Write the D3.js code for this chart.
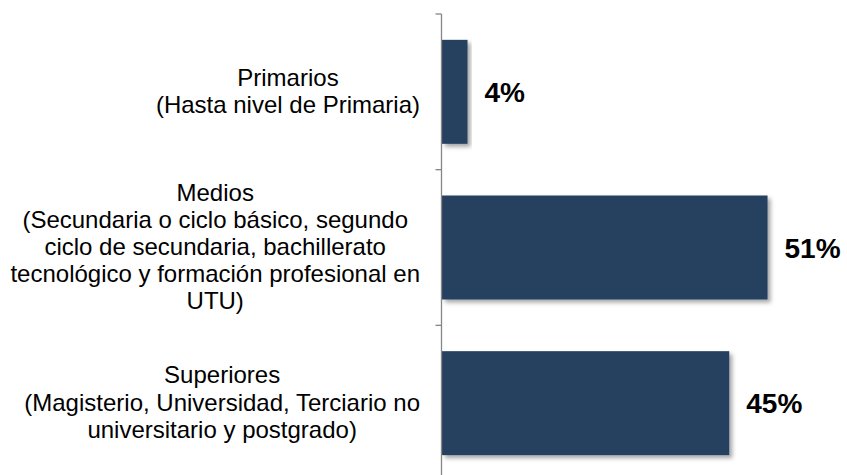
<!DOCTYPE html>
<meta charset="utf-8">
<style>
  body { margin: 0; background: #fff; }
  text { font-family: "Liberation Sans", Arial, sans-serif; }
</style>
<svg width="847" height="475"></svg>
<script src="https://cdnjs.cloudflare.com/ajax/libs/d3/7.8.5/d3.min.js"></script>
<script>
// categories, each one split in the lines that the chart shows
var categories = ["Primarios", "Medios", "Superiores"]
var categoryLines = [
  ["Primarios", "(Hasta nivel de Primaria)"],
  ["Medios", "(Secundaria o ciclo básico, segundo", "ciclo de secundaria, bachillerato",
   "tecnológico y formación profesional en", "UTU)"],
  ["Superiores", "(Magisterio, Universidad, Terciario no", "universitario y postgrado)"]
]
var values = [0.04, 0.51, 0.45]

var svg = d3.select("svg")

var axisX = 441.5
var labelRight = 420
var lineHeight = 27.2

var x = d3.scaleLinear().domain([0, 0.6]).range([442, 825])
var y = d3.scaleBand()
  .domain(categories)
  .range([14, 481])
  .paddingInner(0.332)
  .paddingOuter(0.166)

// soft shadow like the office chart
var defs = svg.append("defs")
var f = defs.append("filter").attr("id", "shadow")
  .attr("x", "-5%").attr("y", "-5%").attr("width", "120%").attr("height", "130%")
f.append("feDropShadow")
  .attr("dx", 3).attr("dy", 3).attr("stdDeviation", 2.2)
  .attr("flood-color", "#000").attr("flood-opacity", 0.35)

var data = categories.map(function (c, i) { return { cat: c, lines: categoryLines[i], value: values[i] } })

svg.append("g")
  .selectAll("rect")
  .data(data)
  .enter().append("rect")
    .attr("x", x(0))
    .attr("y", function (d) { return y(d.cat) })
    .attr("width", function (d) { return x(d.value) - x(0) })
    .attr("height", y.bandwidth())
    .attr("fill", "#264061")
    .attr("filter", "url(#shadow)")

// axis: line plus outer ticks to the left
var axis = d3.axisLeft(y).tickSize(0).tickFormat("")
var axisG = svg.append("g")
  .attr("transform", "translate(" + axisX + ",0)")
  .call(axis)
axisG.select(".domain").remove()
axisG.selectAll(".tick").remove()
axisG.append("line")
  .attr("x1", 0).attr("x2", 0)
  .attr("y1", 14).attr("y2", 481)
  .attr("stroke", "#868686").attr("stroke-width", 1.3)
var bounds = categories.map(function (c) { return y(c) - y.step() * y.paddingInner() / 2 })
bounds.push(481)
axisG.selectAll(".tk")
  .data(bounds)
  .enter().append("line")
    .attr("x1", -6).attr("x2", 0)
    .attr("y1", function (d) { return d }).attr("y2", function (d) { return d })
    .attr("stroke", "#868686").attr("stroke-width", 1.3)

// category labels: block right aligned, lines centred inside the block
var labels = svg.append("g")
  .selectAll("g")
  .data(data)
  .enter().append("g")

labels.each(function (d) {
  var g = d3.select(this)
  var n = d.lines.length
  var mid = y(d.cat) + y.bandwidth() / 2
  var first = mid - (n - 1) * lineHeight / 2 + 7.5
  var texts = g.selectAll("text")
    .data(d.lines)
    .enter().append("text")
      .attr("y", function (l, i) { return first + i * lineHeight })
      .attr("font-size", 24)
      .attr("fill", "#000")
      .attr("text-anchor", "middle")
      .text(function (l) { return l })
  var w = 0
  texts.each(function () { w = Math.max(w, this.getComputedTextLength()) })
  texts.attr("x", labelRight - w / 2)
})

// value labels
svg.append("g")
  .selectAll("text")
  .data(data)
  .enter().append("text")
    .attr("x", function (d) { return x(d.value) + 17 })
    .attr("y", function (d) { return y(d.cat) + y.bandwidth() / 2 + 10 })
    .attr("font-size", 28)
    .attr("font-weight", "bold")
    .attr("fill", "#000")
    .text(function (d) { return Math.round(d.value * 100) + "%" })
</script>
